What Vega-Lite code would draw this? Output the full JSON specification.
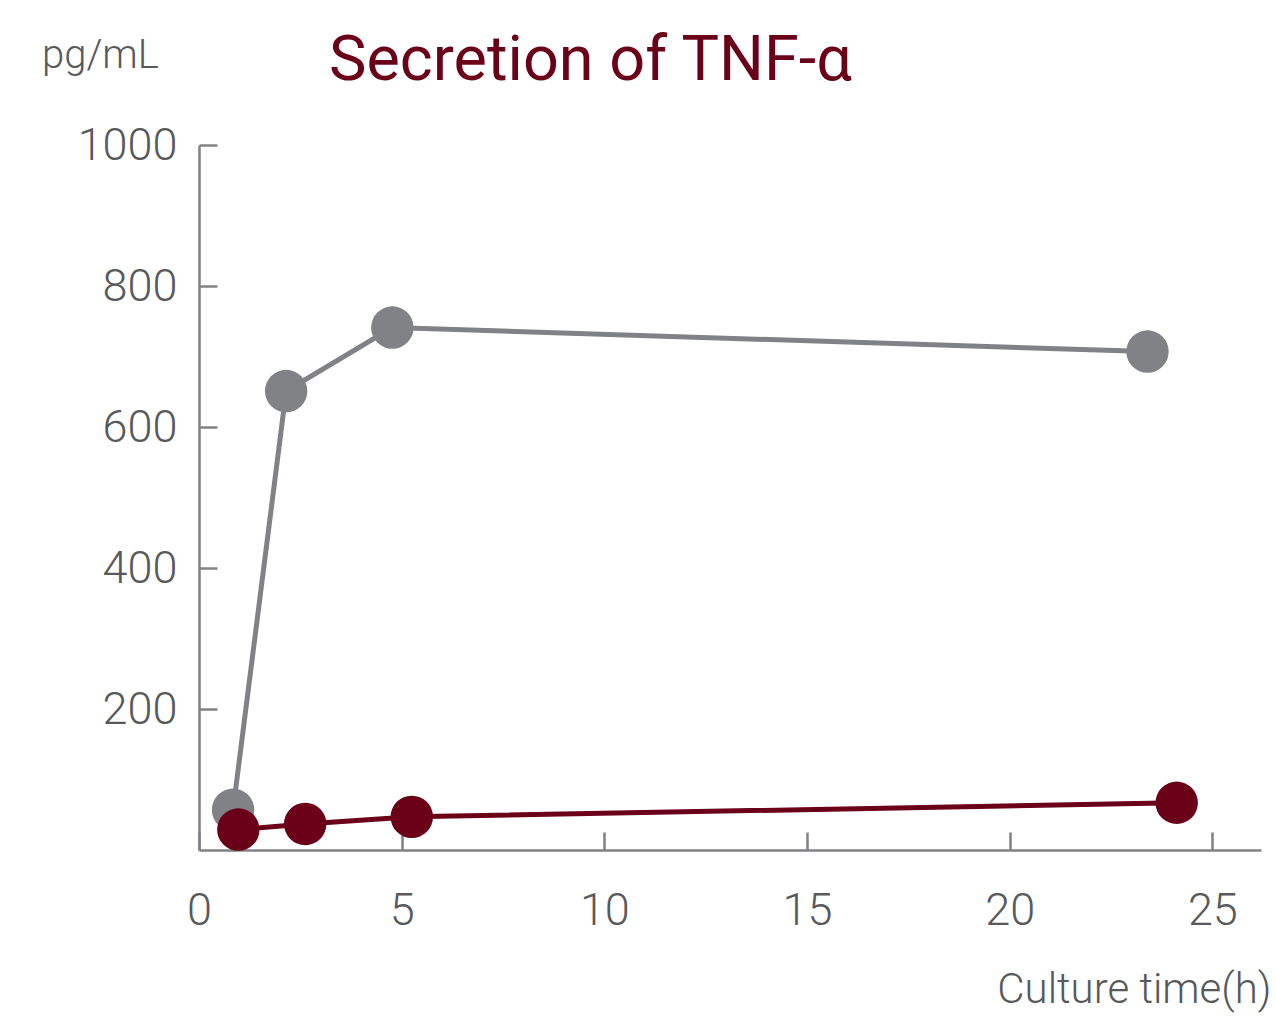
{
  "$schema": "https://vega.github.io/schema/vega-lite/v6.json",
  "width": 1062,
  "height": 705,
  "autosize": {"type": "none"},
  "padding": {"left": 199, "top": 145, "right": 15, "bottom": 169},
  "background": "white",
  "config": {"view": {"stroke": null}, "font": "Roboto"},
  "title": {
    "text": "Secretion of TNF-α",
    "anchor": "start",
    "frame": "group",
    "dx": 130,
    "dy": 62,
    "fontSize": 63,
    "fontWeight": "normal",
    "font": "Roboto",
    "color": "#6b0019",
    "baseline": "alphabetic",
    "offset": -46
  },
  "data": {
    "values": [
      {"series": "A", "time": 0.84, "value": 57},
      {"series": "A", "time": 2.15, "value": 651},
      {"series": "A", "time": 4.77, "value": 741},
      {"series": "A", "time": 23.4, "value": 707},
      {"series": "B", "time": 0.97, "value": 29},
      {"series": "B", "time": 2.62, "value": 37},
      {"series": "B", "time": 5.25, "value": 47},
      {"series": "B", "time": 24.12, "value": 67}
    ]
  },
  "encoding": {
    "x": {
      "field": "time",
      "type": "quantitative",
      "scale": {"domain": [0, 26.2], "nice": false, "zero": false},
      "axis": {
        "values": [0, 5, 10, 15, 20, 25],
        "format": "d",
        "grid": false,
        "domainColor": "#808285",
        "domainWidth": 2.5,
        "tickColor": "#808285",
        "tickWidth": 2.5,
        "tickSize": -18,
        "labelPadding": 56,
        "labelBaseline": "top",
        "labelFontSize": 45,
        "labelFontWeight": 300,
        "labelColor": "#58595b",
        "labelFont": "Roboto",
        "labelFlush": false,
        "title": "Culture time(h)",
        "titleFontSize": 42,
        "titleFontWeight": 300,
        "titleColor": "#58595b",
        "titleFont": "Roboto",
        "titleAlign": "right",
        "titleBaseline": "alphabetic",
        "titleAnchor": null,
        "titleX": 1072,
        "titleY": 152
      }
    },
    "y": {
      "field": "value",
      "type": "quantitative",
      "scale": {"domain": [0, 1000], "nice": false},
      "axis": {
        "values": [200, 400, 600, 800, 1000],
        "format": "d",
        "grid": false,
        "domainColor": "#808285",
        "domainWidth": 2.5,
        "tickColor": "#808285",
        "tickWidth": 2.5,
        "tickSize": -18,
        "labelPadding": 40,
        "labelFontSize": 45,
        "labelFontWeight": 300,
        "labelColor": "#58595b",
        "labelFont": "Roboto",
        "labelFlush": false,
        "title": "pg/mL",
        "titleAngle": 0,
        "titleFontSize": 40,
        "titleFontWeight": 300,
        "titleColor": "#58595b",
        "titleFont": "Roboto",
        "titleAlign": "center",
        "titleBaseline": "alphabetic",
        "titleAnchor": null,
        "titleX": -99,
        "titleY": -78
      }
    },
    "color": {
      "field": "series",
      "type": "nominal",
      "scale": {"domain": ["A", "B"], "range": ["#808285", "#6b0019"]},
      "legend": null
    }
  },
  "layer": [
    {"mark": {"type": "line", "strokeWidth": 5}},
    {"mark": {"type": "point", "filled": true, "opacity": 1, "size": 1800}}
  ]
}
